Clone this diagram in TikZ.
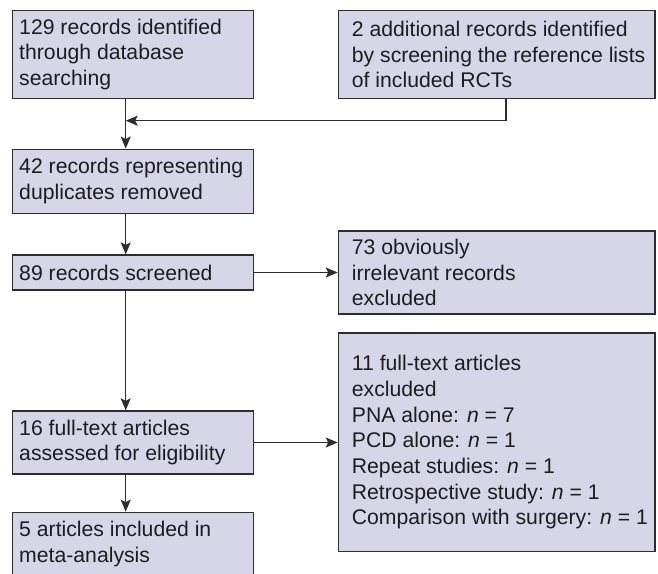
\documentclass[tikz,border=0pt]{standalone}
\usepackage{fontspec}
\setmainfont{Liberation Sans}
\usetikzlibrary{arrows.meta}
\definecolor{boxfill}{RGB}{214,214,232}
\definecolor{boxline}{RGB}{45,45,45}
\definecolor{linecol}{RGB}{45,45,45}
\definecolor{txt}{RGB}{30,28,30}
\begin{document}
\begin{tikzpicture}[x=1pt,y=-1pt,
  box/.style={draw=boxline, fill=boxfill, line width=1.3pt, rectangle, inner sep=0pt},
  lbl/.style={anchor=west, align=left, inner sep=0pt, text=txt, font=\fontsize{21.2}{25.7}\selectfont},
  arr/.style={draw=linecol, line width=1.2pt, -{Stealth[length=12pt,width=10pt,inset=2.5pt]}},
  conn/.style={draw=linecol, line width=1.2pt}]
\useasboundingbox (0,0) rectangle (658,573);
% boxes
\node[box, minimum width=240.6pt, minimum height=88pt] (b1) at (133,54.5) {};
\node[box, minimum width=316.7pt, minimum height=88pt] (b2) at (496.7,54.5) {};
\node[box, minimum width=240.6pt, minimum height=64pt] (b3) at (133,181.2) {};
\node[box, minimum width=240.6pt, minimum height=35pt] (b4) at (133,272.5) {};
\node[box, minimum width=316.7pt, minimum height=83pt] (b5) at (496.7,272.5) {};
\node[box, minimum width=316.7pt, minimum height=218.5pt] (b6) at (496.7,442.3) {};
\node[box, minimum width=240.6pt, minimum height=63pt] (b7) at (133,442.5) {};
\node[box, minimum width=240.6pt, minimum height=63pt] (b8) at (133,543.8) {};
% texts
\node[lbl] (t1) at ([xshift=7pt]b1.west) {129 records identified\\through database\\searching};
\node[lbl] (t2) at ([xshift=14pt]b2.west) {2 additional records identified\\by screening the reference lists\\of included RCTs};
\node[lbl] (t3) at ([xshift=7pt]b3.west) {42 records representing\\duplicates removed};
\node[lbl] (t4) at ([xshift=7pt]b4.west) {89 records screened};
\node[lbl] (t5) at ([xshift=14pt]b5.west) {73 obviously\\irrelevant records\\excluded};
\node[lbl] (t6) at ([xshift=14pt]b6.west) {11 full-text articles\\excluded\\PNA alone: \textit{n} = 7\\PCD alone: \textit{n} = 1\\Repeat studies: \textit{n} = 1\\Retrospective study: \textit{n} = 1\\Comparison with surgery: \textit{n} = 1};
\node[lbl] (t7) at ([xshift=7pt]b7.west) {16 full-text articles\\assessed for eligibility};
\node[lbl] (t8) at ([xshift=7pt]b8.west) {5 articles included in\\meta-analysis};
% connectors
\coordinate (j) at (125.7,120.7);
\draw[arr] (b1.south -| j) -- (b3.north -| j);
\draw[arr] ([xshift=9.3pt]b2.south) |- (j);
\draw[arr] (b3.south -| j) -- (b4.north -| j);
\draw[arr] (b4.south -| j) -- (b7.north -| j);
\draw[arr] (b7.south -| j) -- (b8.north -| j);
\draw[arr] (b4.east) -- (b5.west |- b4.east);
\draw[arr] (b7.east) -- (b6.west |- b7.east);
\end{tikzpicture}
\end{document}
